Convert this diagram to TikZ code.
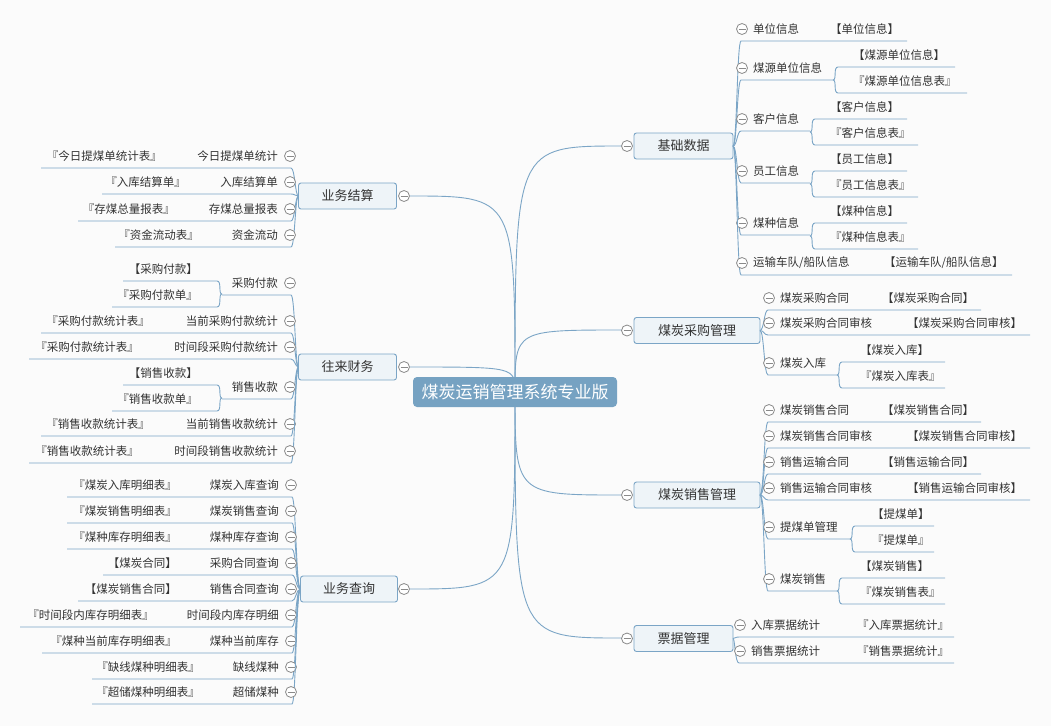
\documentclass[tikz,border=0pt]{standalone}
\usepackage{fontspec}
\setmainfont{Noto Sans CJK SC}
\definecolor{ln}{HTML}{7BA5C6}
\definecolor{bx}{HTML}{EEF4F8}
\definecolor{rt}{HTML}{76A2C2}
\definecolor{tx}{HTML}{333333}
\definecolor{cg}{HTML}{8A8A8A}
\definecolor{bgc}{HTML}{FBFBFB}
\tikzset{
 conn/.style={draw=ln,line width=0.9pt},
 leaf/.style={inner sep=0pt,text=tx,font=\fontsize{11.5}{12}\selectfont},
 topic/.style={draw=ln,fill=bx,rounded corners=2.5pt,line width=0.9pt,inner sep=0pt,text=tx,font=\fontsize{13}{14}\selectfont},
}
\newcommand\mcirc[2]{\draw[cg,fill=white,line width=0.8pt] (#1,#2) circle (5.5); \draw[cg,line width=0.8pt] ({#1-3.5},#2) -- ({#1+3.5},#2);}
\newcommand\RC[6]{\draw[conn] (#2,#3) .. controls (#1,#3) and (#1,{#4+12}) .. ({#1+4},{#4+12}) -- (#5,{#4+12});
 \mcirc{#1+5}{#4} \node[leaf,anchor=west] at ({#1+16},#4) {#6};}
\newcommand\LC[6]{\draw[conn] (#2,#3) .. controls (#1,#3) and (#1,{#4+12}) .. ({#1-4},{#4+12}) -- (#5,{#4+12});
 \mcirc{#1-5}{#4} \node[leaf,anchor=east] at ({#1-17},#4) {#6};}
\newcommand\RG[7]{\draw[conn] (#1,#2) .. controls ({#1+4},#2) and (#1,{#2-13}) .. ({#1+5},{#2-13}) -- (#3,{#2-13});
 \draw[conn] (#1,#2) .. controls ({#1+4},#2) and (#1,{#2+13}) .. ({#1+5},{#2+13}) -- (#4,{#2+13});
 \node[leaf,anchor=west] at (#7,{#2-25}) {#5}; \node[leaf,anchor=west] at (#7,{#2+1}) {#6};}
\newcommand\LG[7]{\draw[conn] (#1,#2) .. controls ({#1-4},#2) and (#1,{#2-13}) .. ({#1-5},{#2-13}) -- (#3,{#2-13});
 \draw[conn] (#1,#2) .. controls ({#1-4},#2) and (#1,{#2+13}) .. ({#1-5},{#2+13}) -- (#4,{#2+13});
 \node[leaf,anchor=east] at (#7,{#2-25}) {#5}; \node[leaf,anchor=east] at (#7,{#2+1}) {#6};}
\newcommand\RT[3]{\node[leaf,anchor=west] at (#1,#2) {#3};}
\newcommand\LT[3]{\node[leaf,anchor=east] at (#1,#2) {#3};}
\begin{document}
\begin{tikzpicture}[x=1pt,y=-1pt]
\fill[bgc] (0,0) rectangle (1051,726);
\useasboundingbox (0,0) rectangle (1051,726);
\coordinate (rc) at (515,392);
\foreach \y in {146,330,495,638} {\draw[conn] (rc) .. controls (515,\y) .. (621.5,\y);}
\foreach \y in {196,367,589} {\draw[conn] (rc) .. controls (515,\y) .. (409.5,\y);}
\node[fill=rt,rounded corners=4pt,minimum width=204pt,minimum height=30pt,inner sep=0pt,text=white,font=\fontsize{17}{18}\selectfont] (root) at (rc) {煤炭运销管理系统专业版};
\node[topic,minimum width=99pt,minimum height=26pt] (jc) at (683.5,146) {基础数据}; \mcirc{627}{146}
\node[topic,minimum width=126pt,minimum height=26pt] (cg) at (697,330.5) {煤炭采购管理}; \mcirc{627}{330.5}
\node[topic,minimum width=126pt,minimum height=26pt] (xs) at (697,495) {煤炭销售管理}; \mcirc{627}{495}
\node[topic,minimum width=99pt,minimum height=26pt] (pj) at (683.5,638.5) {票据管理}; \mcirc{627}{638.5}
\node[topic,minimum width=98pt,minimum height=26pt] (js) at (347.5,196) {业务结算}; \mcirc{404}{196}
\node[topic,minimum width=98pt,minimum height=26pt] (wl) at (347.5,367) {往来财务}; \mcirc{404}{367}
\node[topic,minimum width=97pt,minimum height=26pt] (cx) at (349,589) {业务查询}; \mcirc{404}{589}
\RC{737}{733}{146}{29}{907}{单位信息} \RT{830}{29}{【单位信息】}
\RC{737}{733}{146}{68}{833}{煤源单位信息} \RG{833}{80}{955}{967}{【煤源单位信息】}{『煤源单位信息表』}{853}
\RC{737}{733}{146}{119}{810}{客户信息} \RG{810}{132}{907}{918}{【客户信息】}{『客户信息表』}{830}
\RC{737}{733}{146}{171}{810}{员工信息} \RG{810}{184}{907}{918}{【员工信息】}{『员工信息表』}{830}
\RC{737}{733}{146}{223}{810}{煤种信息} \RG{810}{236}{907}{918}{【煤种信息】}{『煤种信息表』}{830}
\RC{737}{733}{146}{263}{1012}{运输车队/船队信息} \RT{884}{263}{【运输车队/船队信息】}
\RC{764}{760}{330.5}{298}{981}{煤炭采购合同} \RT{882}{298}{【煤炭采购合同】}
\RC{764}{760}{330.5}{323}{1030}{煤炭采购合同审核} \RT{907}{323}{【煤炭采购合同审核】}
\RC{764}{760}{330.5}{363}{837}{煤炭入库} \RG{837}{375}{945}{945}{【煤炭入库】}{『煤炭入库表』}{860}
\RC{764}{760}{495}{410}{981}{煤炭销售合同} \RT{882}{410}{【煤炭销售合同】}
\RC{764}{760}{495}{436}{1030}{煤炭销售合同审核} \RT{907}{436}{【煤炭销售合同审核】}
\RC{764}{760}{495}{462}{981}{销售运输合同} \RT{882}{462}{【销售运输合同】}
\RC{764}{760}{495}{488}{1030}{销售运输合同审核} \RT{907}{488}{【销售运输合同审核】}
\RC{764}{760}{495}{527}{850}{提煤单管理} \RG{850}{539}{934}{934}{【提煤单】}{『提煤单』}{872}
\RC{764}{760}{495}{579}{837}{煤炭销售} \RG{837}{591}{945}{945}{【煤炭销售】}{『煤炭销售表』}{860}
\RC{735}{733}{638.5}{625}{954}{入库票据统计} \RT{857}{625}{『入库票据统计』}
\RC{735}{733}{638.5}{651}{954}{销售票据统计} \RT{857}{651}{『销售票据统计』}
\LC{295}{298.5}{196}{156}{41}{今日提煤单统计} \LT{162}{156}{『今日提煤单统计表』}
\LC{295}{298.5}{196}{182}{102}{入库结算单} \LT{186}{182}{『入库结算单』}
\LC{295}{298.5}{196}{209}{78}{存煤总量报表} \LT{175}{209}{『存煤总量报表』}
\LC{295}{298.5}{196}{235}{115}{资金流动} \LT{199}{235}{『资金流动表』}
\LC{295}{298.5}{367}{283}{222}{采购付款} \LG{222}{294}{123}{112}{【采购付款】}{『采购付款单』}{198}
\LC{295}{298.5}{367}{321}{41}{当前采购付款统计} \LT{150}{321}{『采购付款统计表』}
\LC{295}{298.5}{367}{347}{29}{时间段采购付款统计} \LT{139}{347}{『采购付款统计表』}
\LC{295}{298.5}{367}{387}{222}{销售收款} \LG{222}{398}{123}{112}{【销售收款】}{『销售收款单』}{198}
\LC{295}{298.5}{367}{424}{41}{当前销售收款统计} \LT{150}{424}{『销售收款统计表』}
\LC{295}{298.5}{367}{451}{29}{时间段销售收款统计} \LT{139}{451}{『销售收款统计表』}
\LC{296}{300.5}{589}{485}{67}{煤炭入库查询} \LT{177}{485}{『煤炭入库明细表』}
\LC{296}{300.5}{589}{511}{67}{煤炭销售查询} \LT{177}{511}{『煤炭销售明细表』}
\LC{296}{300.5}{589}{537}{67}{煤种库存查询} \LT{177}{537}{『煤种库存明细表』}
\LC{296}{300.5}{589}{563}{103}{采购合同查询} \LT{177}{563}{【煤炭合同】}
\LC{296}{300.5}{589}{589}{78}{销售合同查询} \LT{177}{589}{【煤炭销售合同】}
\LC{296}{300.5}{589}{615}{20}{时间段内库存明细} \LT{154}{615}{『时间段内库存明细表』}
\LC{296}{300.5}{589}{641}{42}{煤种当前库存} \LT{177}{641}{『煤种当前库存明细表』}
\LC{296}{300.5}{589}{667}{92}{缺线煤种} \LT{200}{667}{『缺线煤种明细表』}
\LC{296}{300.5}{589}{692}{92}{超储煤种} \LT{200}{692}{『超储煤种明细表』}
\end{tikzpicture}
\end{document}
